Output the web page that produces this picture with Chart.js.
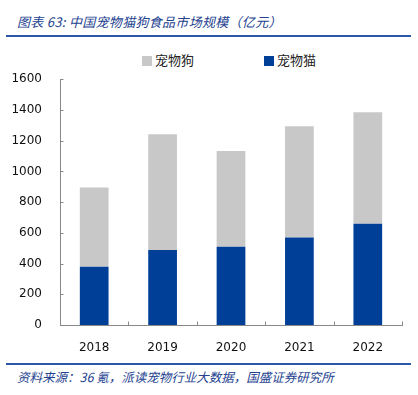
<!DOCTYPE html>
<html><head><meta charset="utf-8">
<script src="https://cdn.jsdelivr.net/npm/chart.js@4"></script>
<style>
html,body{margin:0;padding:0;background:#fff;width:418px;height:395px;overflow:hidden;}
#title{position:absolute;left:17px;top:12px;font:italic 13px "Noto Sans CJK SC";color:#24428f;white-space:nowrap;letter-spacing:0.3px;}
#tline{position:absolute;left:6px;top:35px;width:405px;height:2px;background:#2a56a8;}
#fline{position:absolute;left:6px;top:363px;width:405px;height:2px;background:#2a56a8;}
#foot{position:absolute;left:17px;top:367px;font:italic 12.5px "Noto Sans CJK SC";color:#24428f;white-space:nowrap;}
#legend{position:absolute;top:50px;left:0;width:418px;font:13px "Noto Sans CJK SC";color:#222;}
.li{position:absolute;top:0;white-space:nowrap;}
.sw{display:inline-block;width:10px;height:10px;margin-right:3px;vertical-align:-1px;}
#wrap{position:absolute;left:0;top:62px;width:418px;height:298px;}
</style></head><body>
<div id="title">图表 63:  中国宠物猫狗食品市场规模（亿元）</div>
<div id="tline"></div>
<div id="legend"></div>
<div id="wrap"><canvas id="c"></canvas></div>
<div id="fline"></div>
<div id="foot">资料来源：36 氪，派读宠物行业大数据，国盛证券研究所</div>
<script>
const categories = ["2018","2019","2020","2021","2022"];
const catValues = [379, 488, 509, 570, 659];
const dogValues = [516, 754, 623, 724, 726];
const seriesNames = ["宠物狗","宠物猫"];
const seriesColors = ["#c8c8c8","#003f98"];
const yTicks = [0,200,400,600,800,1000,1200,1400,1600];

const lg = document.getElementById('legend');
[[0,142],[1,264]].forEach(([i,x])=>{
  const d=document.createElement('div');d.className='li';d.style.left=x+'px';
  d.innerHTML='<span class="sw" style="background:'+seriesColors[i]+'"></span>'+seriesNames[i];
  lg.appendChild(d);
});

const innerTicks = {
  id:'innerTicks',
  afterDraw(chart){
    const ctx=chart.ctx, x=chart.scales.x, y=chart.scales.y;
    ctx.save();ctx.strokeStyle='#888';ctx.lineWidth=1;
    const b=Math.round(y.getPixelForValue(0))+0.5;
    const l=Math.round(x.left)+0.5;
    yTicks.forEach(v=>{const p=Math.round(y.getPixelForValue(v))+0.5;ctx.beginPath();ctx.moveTo(l,p);ctx.lineTo(l+3,p);ctx.stroke();});
    const n=categories.length;
    for(let i=1;i<=n;i++){
      const p=Math.round(x.left+(x.right-x.left)*i/n)+0.5;
      ctx.beginPath();ctx.moveTo(p,b);ctx.lineTo(p,b-4);ctx.stroke();
    }
    ctx.restore();
  }
};

new Chart(document.getElementById('c'),{
  type:'bar',
  data:{labels:categories,datasets:[
    {label:seriesNames[1],data:catValues,backgroundColor:seriesColors[1],barPercentage:0.42,categoryPercentage:1,order:1},
    {label:seriesNames[0],data:dogValues,backgroundColor:seriesColors[0],barPercentage:0.42,categoryPercentage:1,order:2}
  ]},
  options:{
    responsive:true,maintainAspectRatio:false,animation:false,
    layout:{padding:{top:9,right:16,left:0,bottom:0}},
    plugins:{legend:{display:false},tooltip:{enabled:false}},
    scales:{
      x:{stacked:true,grid:{display:false},border:{display:true,color:'#888'},
         ticks:{color:'#111',font:{family:'DejaVu Sans',size:12},padding:8},
         afterFit(s){s.height=35;}},
      y:{stacked:true,min:0,max:1600,grid:{display:false},border:{display:true,color:'#888'},
         ticks:{stepSize:200,color:'#111',font:{family:'DejaVu Sans',size:12},padding:10,callback:v=>String(v)},
         afterFit(s){s.width=60;}}
    }
  },
  plugins:[innerTicks]
});
</script>
</body></html>
